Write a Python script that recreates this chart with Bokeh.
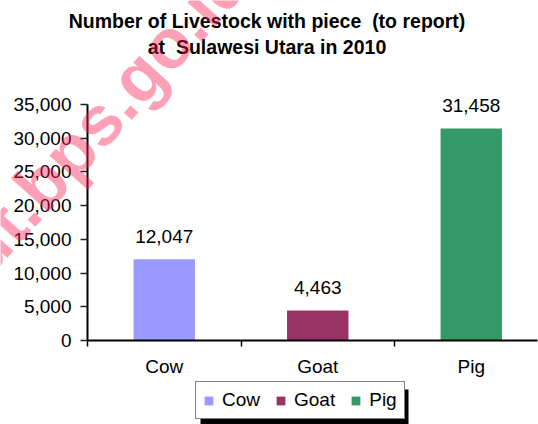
import math
from bokeh.plotting import figure
from bokeh.models import (Range1d, FixedTicker, NumeralTickFormatter, ColumnDataSource,
                          Legend, LegendItem, Label, BoxAnnotation)
from bokeh.embed import file_html
from bokeh.resources import INLINE

# ---- data ----
categories = ["Cow", "Goat", "Pig"]
values = [12047, 4463, 31458]
colors = ["#9999FF", "#993366", "#339966"]
value_labels = ["12,047", "4,463", "31,458"]
y_ticks = [0, 5000, 10000, 15000, 20000, 25000, 30000, 35000]
title_lines = ["Number of Livestock with piece  (to report)", "at  Sulawesi Utara in 2010"]
watermark = "http://sulut.bps.go.id"

FONT = "Liberation Sans"
W, H = 538, 424
n = len(categories)
centers = [i + 0.5 for i in range(n)]
bounds = [float(i) for i in range(n + 1)]
y_max = y_ticks[-1]

# pixel layout of the plotting area (axis origin and scale)
X0_PX, Y0_PX = 87, 340          # where data (0, 0) sits on the canvas
PX_PER_CAT = 153.5
PX_PER_Y = 236 / y_max

def dx(px):
    return (px - X0_PX) / PX_PER_CAT

def dy(py):
    return (Y0_PX - py) / PX_PER_Y

src = ColumnDataSource(dict(x=centers, top=values, color=colors, label=value_labels, cat=categories))

p = figure(width=W, height=H,
           x_range=Range1d(dx(0), dx(W)), y_range=Range1d(dy(H), dy(0)),
           output_backend="svg", toolbar_location=None,
           min_border=0, min_border_left=0, min_border_right=0,
           min_border_top=0, min_border_bottom=0)
p.title.visible = False
p.outline_line_color = None
p.xgrid.visible = False
p.ygrid.visible = False
p.background_fill_color = "white"
p.border_fill_color = "white"

bars = p.vbar(x="x", top="top", width=0.40, bottom=0, source=src,
              fill_color="color", line_color=None)

p.text(x="x", y="top", text="label", source=src, text_align="center",
       text_baseline="alphabetic", y_offset=-23, text_font_size="19px",
       text_font={"value": FONT}, text_color="black")

# axes (fixed at the data origin)
xa = p.xaxis[0]
xa.fixed_location = 0
xa.bounds = (0, dx(W - 1))
xa.ticker = FixedTicker(ticks=centers, minor_ticks=bounds)
xa.major_label_overrides = {c: cat for c, cat in zip(centers, categories)}
xa.major_tick_line_color = None
xa.major_tick_out = 0
xa.major_tick_in = 0
xa.minor_tick_out = 6
xa.minor_tick_in = 0
xa.minor_tick_line_color = "black"
xa.minor_tick_line_width = 1.5
xa.axis_line_color = "black"
xa.axis_line_width = 2
xa.major_label_standoff = 9
xa.major_label_text_font = FONT
xa.major_label_text_font_size = "19px"
xa.major_label_text_color = "black"

ya = p.yaxis[0]
ya.fixed_location = 0
ya.bounds = (0, y_max)
ya.ticker = FixedTicker(ticks=y_ticks)
ya.formatter = NumeralTickFormatter(format="0,0")
ya.minor_tick_line_color = None
ya.major_tick_out = 7
ya.major_tick_in = 0
ya.major_tick_line_color = "#222222"
ya.major_tick_line_width = 1.5
ya.axis_line_color = "black"
ya.axis_line_width = 2
ya.major_label_standoff = 9
ya.major_label_text_font = FONT
ya.major_label_text_font_size = "19px"
ya.major_label_text_color = "black"

# title
for line, py in zip(title_lines, [20, 46]):
    p.add_layout(Label(x=dx(266.5), y=dy(py), text=line.replace("  ", " \u00a0"),
                       text_align="center", text_baseline="alphabetic",
                       text_font=FONT, text_font_style="bold",
                       text_font_size="19.5px", text_color="black"))

# legend with drop shadow
p.add_layout(BoxAnnotation(left=dx(200), right=dx(408), top=dy(389), bottom=dy(424),
                           fill_color="black", fill_alpha=1, line_color=None))
legend = Legend(items=[LegendItem(label=c, renderers=[bars], index=i) for i, c in enumerate(categories)],
                orientation="horizontal", location=(195, 5), margin=0, padding=7,
                spacing=15, glyph_width=11, glyph_height=11, label_standoff=8,
                label_height=20, label_text_font=FONT, label_text_font_size="19px",
                label_text_color="black", background_fill_color="white", background_fill_alpha=1,
                border_line_color="black", border_line_width=1)
p.add_layout(legend)

# watermark (semi-transparent, on top)
wm = Label(x=dx(235), y=dy(-32), text=watermark, text_align="right", text_baseline="alphabetic",
           angle=math.radians(48), text_font=FONT, text_font_style="bold",
           text_font_size="70px", text_color="#ff2050", text_alpha=0.42)
p.add_layout(wm)

open("out.html", "w").write(file_html(p, INLINE))
